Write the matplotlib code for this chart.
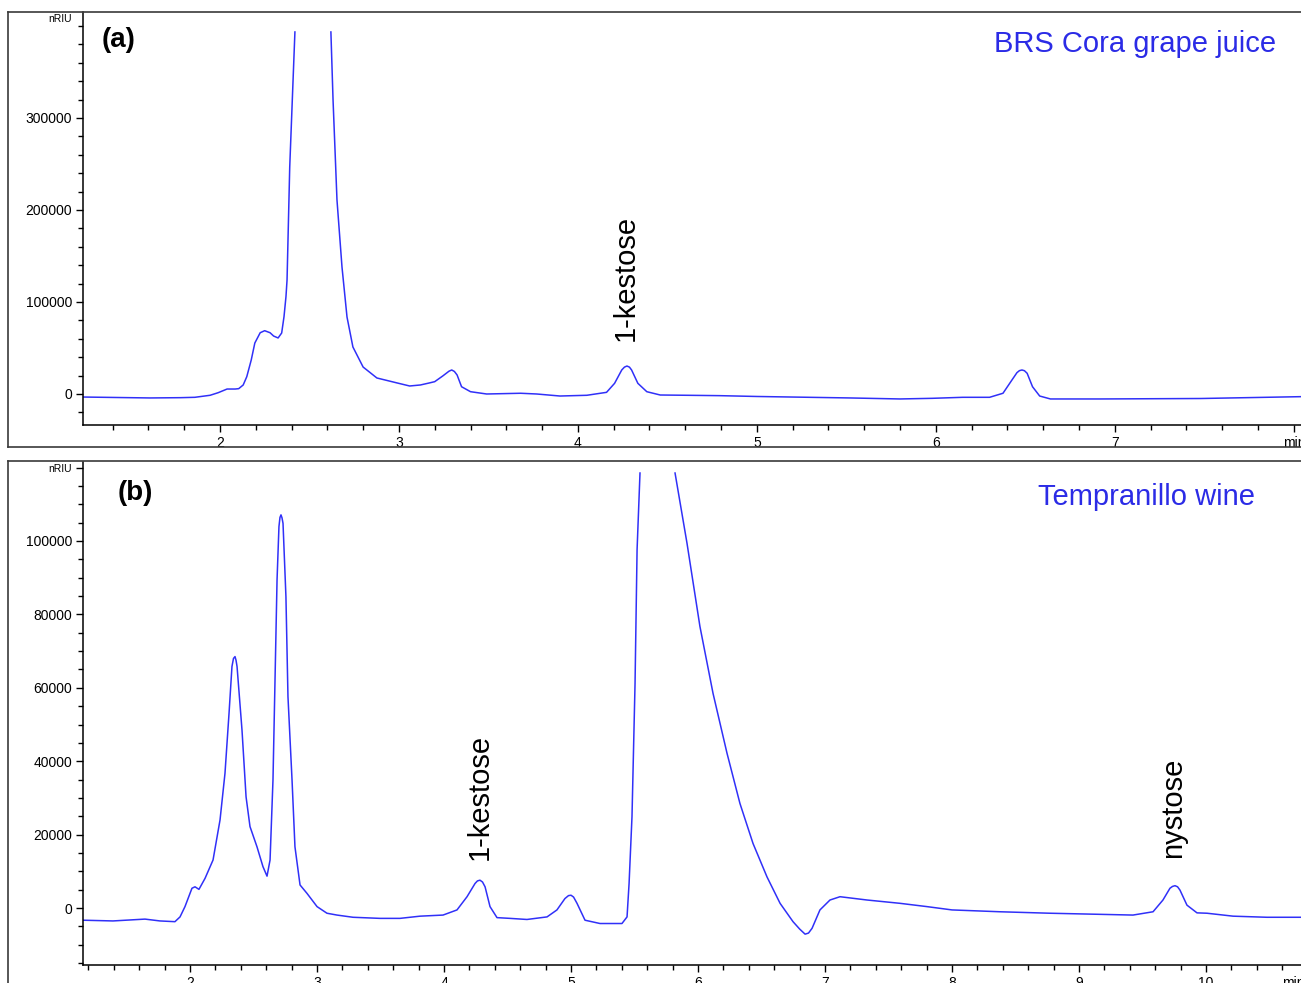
"""
Two stacked RI chromatograms: (a) BRS Cora grape juice, (b) Tempranillo wine.
"""
import numpy as np
import matplotlib
matplotlib.use('Agg')
import matplotlib.pyplot as plt
from matplotlib.lines import Line2D
from matplotlib.ticker import MultipleLocator

plt.rcParams['font.family'] = ['Liberation Sans', 'DejaVu Sans']

nan = float('nan')

# ---- (a) BRS Cora grape juice: retention time (min) / signal (nRIU) ----
time_a = [1.235, 1.61, 1.78, 1.86, 1.945, 1.99, 2.04, 2.085, 2.105, 2.13,
          2.15, 2.175, 2.195, 2.225, 2.25, 2.28, 2.30, 2.325, 2.345, 2.358,
          2.369, 2.375, 2.39, 2.408, 2.419, 2.52, 2.62, 2.632, 2.654, 2.682,
          2.71, 2.743, 2.80, 2.877, 2.99, 3.06, 3.12, 3.17, 3.20, 3.245,
          3.28, 3.295, 3.31, 3.325, 3.35, 3.40, 3.49, 3.68, 3.77, 3.90,
          4.05, 4.16, 4.205, 4.245, 4.26, 4.274, 4.288, 4.30, 4.335, 4.385,
          4.46, 4.61, 4.79, 5.00, 5.52, 5.80, 5.98, 6.15, 6.30, 6.375,
          6.425, 6.453, 6.467, 6.481, 6.495, 6.51, 6.54, 6.58, 6.64, 6.92,
          7.48, 8.04]
signal_a = [-3300, -4300, -4000, -3600, -1400, 1400, 5400, 5400, 5800, 9800,
            18800, 37000, 55400, 66600, 68800, 66600, 63000, 60900, 66300, 84000,
            105800, 123900, 246700, 338000, 393500, nan, 393500, 319600, 210900, 138000,
            83700, 51100, 29300, 17400, 12000, 8700, 9800, 12000, 13400, 19600,
            24800, 26100, 24500, 20700, 7900, 2500, 0, 800, 0, -2200,
            -1400, 1800, 11600, 26100, 29200, 30400, 29200, 26100, 11600, 2500,
            -1100, -1400, -1800, -2700, -4300, -5400, -4700, -3600, -3600, 800,
            15200, 23200, 25400, 26100, 25300, 22500, 7900, -2200, -5400, -5400,
            -4900, -2900]

# ---- (b) Tempranillo wine ----
time_b = [1.157, 1.393, 1.645, 1.763, 1.881, 1.921, 1.96, 2.015, 2.039, 2.07,
          2.118, 2.181, 2.236, 2.275, 2.307, 2.33, 2.342, 2.354, 2.362, 2.37,
          2.409, 2.441, 2.472, 2.527, 2.574, 2.606, 2.63, 2.653, 2.669, 2.685,
          2.70, 2.708, 2.716, 2.724, 2.732, 2.755, 2.771, 2.803, 2.826, 2.866,
          2.921, 3.0, 3.078, 3.157, 3.283, 3.496, 3.653, 3.811, 3.992, 4.102,
          4.181, 4.244, 4.263, 4.283, 4.303, 4.323, 4.362, 4.417, 4.519, 4.653,
          4.811, 4.889, 4.952, 4.98, 5.0, 5.02, 5.047, 5.11, 5.228, 5.401,
          5.441, 5.457, 5.48, 5.504, 5.52, 5.543, 5.68, 5.819, 5.913, 6.015,
          6.118, 6.228, 6.33, 6.433, 6.543, 6.646, 6.748, 6.80, 6.843, 6.87,
          6.898, 6.96, 7.039, 7.118, 7.331, 7.59, 7.803, 8.0, 8.378, 8.771,
          9.165, 9.425, 9.583, 9.661, 9.716, 9.736, 9.756, 9.776, 9.795, 9.85,
          9.929, 10.008, 10.213, 10.48, 10.748]
signal_b = [-3300, -3500, -3000, -3500, -3700, -2400, 400, 5400, 5800, 5100,
            8100, 13100, 24000, 36700, 53100, 65800, 68000, 68500, 67500, 65800,
            48500, 30300, 22200, 16700, 11300, 8700, 13100, 34900, 62100, 89400,
            103900, 106400, 107100, 106300, 104800, 84800, 57600, 34900, 16700, 6300,
            4000, 400, -1400, -1900, -2500, -2800, -2800, -2200, -1900, -500,
            3100, 6700, 7400, 7600, 7100, 5800, 400, -2600, -2800, -3100,
            -2400, -500, 2600, 3400, 3500, 3000, 1300, -3300, -4200, -4200,
            -2400, 6700, 24900, 61200, 97600, 118500, nan, 118500, 99400, 76700,
            58500, 42200, 28500, 17600, 8500, 1300, -3700, -5700, -7100, -6800,
            -5500, -500, 2200, 3100, 2200, 1300, 400, -500, -1000, -1400,
            -1700, -1900, -1000, 2200, 5400, 5900, 6100, 5800, 4900, 800,
            -1300, -1400, -2200, -2500, -2500]

# peak labels
peaks_a = [('1-kestose', 4.27, 58000)]
peaks_b = [('1-kestose', 4.283, 13000), ('nystose', 9.74, 13600)]

W, H = 1301, 983
TRACE = '#3030f8'
TXT_BLUE = '#2b2be6'


def px_box(left, top, right, bottom):
    """像素坐标 -> figure 坐标 [l, b, w, h]"""
    return [left / W, 1 - bottom / H, (right - left) / W, (bottom - top) / H]


def style_axis(ax, xlim, ylim, ymajor, yminor):
    ax.set_xlim(*xlim)
    ax.set_ylim(*ylim)
    for s in ('top', 'right'):
        ax.spines[s].set_visible(False)
    for s in ('left', 'bottom'):
        ax.spines[s].set_linewidth(1.1)
    ax.xaxis.set_major_locator(MultipleLocator(1))
    ax.xaxis.set_minor_locator(MultipleLocator(0.2))
    ax.yaxis.set_major_locator(MultipleLocator(ymajor))
    ax.yaxis.set_minor_locator(MultipleLocator(yminor))
    ax.tick_params(which='major', length=5, width=1.0, labelsize=10, pad=3)
    ax.tick_params(which='minor', length=3.5, width=1.0)
    ax.set_facecolor('white')


def min_label(ax, t):
    """时间轴末端的 'min' 单位标签"""
    ax.annotate('min', xy=(t, 0), xycoords=('data', 'axes fraction'),
                xytext=(0, -8), textcoords='offset points',
                ha='center', va='top', fontsize=10)


def frame(fig, top, bottom):
    """外框（左、上、下三条边，右侧被裁掉）"""
    x0 = 8 / W
    yt, yb = 1 - top / H, 1 - bottom / H
    kw = dict(transform=fig.transFigure, color='#3a3a3a', lw=1.2)
    fig.add_artist(Line2D([x0, x0], [yb, yt], **kw))
    fig.add_artist(Line2D([x0, 1.01], [yt, yt], **kw))
    fig.add_artist(Line2D([x0, 1.01], [yb, yb], **kw))


fig = plt.figure(figsize=(W / 100, H / 100), dpi=100)
fig.patch.set_facecolor('white')

# ---------------- (a) ----------------
ax1 = fig.add_axes(px_box(83, 12, W, 425))
ax1.plot(time_a, signal_a, color=TRACE, lw=1.1)
style_axis(ax1, (1.235, 8.04), (-33700, 415200), 100000, 20000)
ax1.set_xticks([2, 3, 4, 5, 6, 7, 8])
ax1.set_xticklabels(['2', '3', '4', '5', '6', '7', ''])
ax1.set_yticks([0, 100000, 200000, 300000])
ax1.set_yticklabels(['0', '100000', '200000', '300000'])
min_label(ax1, 8.0)
ax1.annotate('nRIU', xy=(0, 407600), xycoords=('axes fraction', 'data'),
             xytext=(-8, 0), textcoords='offset points',
             ha='right', va='center', fontsize=7.5)
ax1.text(0.0296, 0.932, '(a)', transform=ax1.transAxes, fontsize=20,
         fontweight='bold', ha='center', va='center')
ax1.text(0.9795, 0.922, 'BRS Cora grape juice', transform=ax1.transAxes,
         fontsize=21, color=TXT_BLUE, ha='right', va='center')
for name, t, s in peaks_a:
    ax1.text(t, s, name, rotation=90, ha='center', va='bottom', fontsize=21)
frame(fig, 12, 447)

# ---------------- (b) ----------------
ax2 = fig.add_axes(px_box(83, 462, W, 965))
ax2.plot(time_b, signal_b, color=TRACE, lw=1.1)
style_axis(ax2, (1.157, 10.748), (-15500, 121500), 20000, 5000)
ax2.set_xticks(list(range(2, 11)))
ax2.set_yticks([0, 20000, 40000, 60000, 80000, 100000, 120000])
ylabs = ax2.set_yticklabels(['0', '20000', '40000', '60000', '80000',
                             '100000', 'nRIU'])
ylabs[-1].set_fontsize(7.5)
min_label(ax2, 10.69)
ax2.text(0.0427, 0.938, '(b)', transform=ax2.transAxes, fontsize=20,
         fontweight='bold', ha='center', va='center')
ax2.text(0.962, 0.930, 'Tempranillo wine', transform=ax2.transAxes,
         fontsize=21, color=TXT_BLUE, ha='right', va='center')
for name, t, s in peaks_b:
    ax2.text(t, s, name, rotation=90, ha='center', va='bottom', fontsize=21)
frame(fig, 461, 1000)

fig.savefig('out.png', dpi=100)
